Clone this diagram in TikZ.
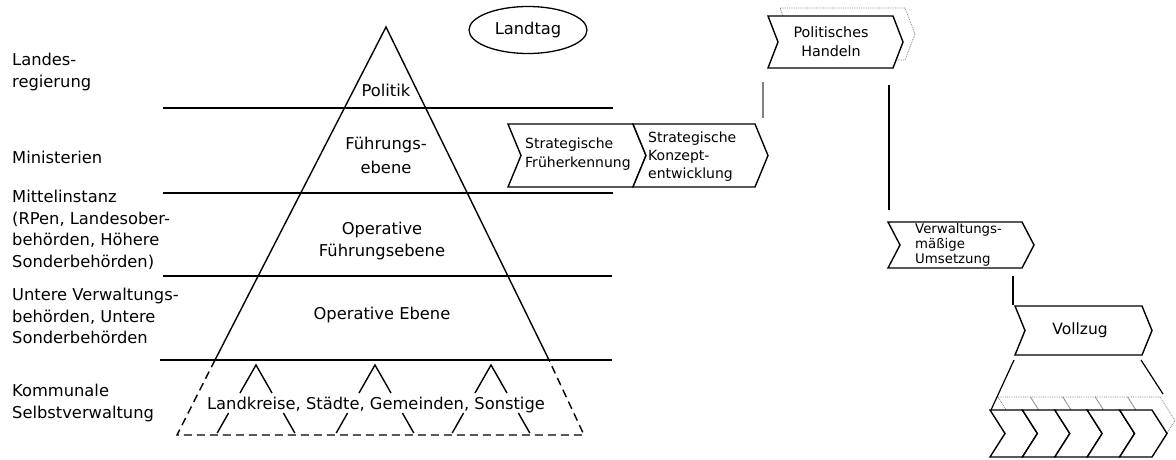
\documentclass[tikz,border=0pt]{standalone}
\usepackage{fontspec}
\setmainfont{DejaVu Sans}
\usetikzlibrary{shapes.geometric}
\tikzset{
  % chevron: width / height / depth of the notch and the point
  pics/chevron/.style n args={3}{code={
    \path[pic actions] (0,0) -- (#1,0) -- ({#1+#3},{#2/2}) -- (#1,#2)
      -- (0,#2) -- (#3,{#2/2}) -- cycle;
  }}
}
\begin{document}
\begin{tikzpicture}[x=1pt,y=-1pt,
  big/.style={font=\fontsize{16.3}{21.5}\selectfont, inner sep=0pt},
  small/.style={font=\fontsize{14}{18}\selectfont, inner sep=0pt},
  rule/.style={line width=1.3pt},
  heavyrule/.style={line width=2.8pt},
  edge/.style={line width=1.4pt, line join=miter},
  dashedge/.style={line width=1.4pt, dash pattern=on 8pt off 5pt},
  shadowline/.style={draw, gray, densely dotted, line width=0.8pt},
  box/.style={draw, fill=white, line width=1.4pt, line join=miter},
  link/.style={line width=1.2pt}
]
\useasboundingbox (0,0) rectangle (1176,459);
\fill[white] (0,0) rectangle (1176,459);

% --- level labels on the left
\node[big, anchor=west, align=left] (lreg) at (12,72) {Landes-\\regierung};
\node[big, anchor=west, align=left] (lmin) at (12,157) {Ministerien};
\node[big, anchor=west, align=left] (lmit) at (12,230)
  {Mittelinstanz\\(RPen, Landesober-\\behörden, Höhere\\Sonderbehörden)};
\node[big, anchor=west, align=left] (lunt) at (12,316)
  {Untere Verwaltungs-\\behörden, Untere\\Sonderbehörden};
\node[big, anchor=west, align=left] (lkom) at (12,403) {Kommunale\\Selbstverwaltung};

% --- horizontal level rules
\coordinate (r1a) at (163,108); \coordinate (r1b) at (613,108);
\coordinate (r2a) at (163,193); \coordinate (r2b) at (613,193);
\coordinate (r3a) at (163,276); \coordinate (r3b) at (612,276);
\coordinate (r4a) at (160,360); \coordinate (r4b) at (612,360);
\draw[heavyrule] (r1a) -- (r1b);
\draw[rule] (r2a) -- (r2b);
\draw[rule] (r3a) -- (r3b);
\draw[heavyrule] (r4a) -- (r4b);

% --- pyramid
\coordinate (apex) at (386,27);
\coordinate (bl) at (215,360);
\coordinate (br) at (549,360);
\coordinate (dl) at (177,435);
\coordinate (dr) at (584,435);
\draw[edge] (bl) -- (apex) -- (br);
\draw[dashedge] (bl) -- (dl) -- (dr) -- (br);

\node[big] (politik) at (386,90) {Politik};
\node[big, align=center, font=\fontsize{16.3}{24}\selectfont] (fuehr) at (386,155) {Führungs-\\ebene};
\node[big, align=center] (opfuehr) at (382,241) {Operative\\Führungsebene};
\node[big] (opeb) at (382,315) {Operative Ebene};
\node[big] (komm) at (376,405) {Landkreise, Städte, Gemeinden, Sonstige};

% small roofs of the municipalities, broken around the text
\foreach \p in {256,375,491} {
  \draw[edge] (\p-16,393) -- (\p,365) -- (\p+16,393);
  \draw[edge] (\p-27.4,413) -- (\p-38.8,433);
  \draw[edge] (\p+27.4,413) -- (\p+38.8,433);
}

% --- parliament
\node[draw, ellipse, line width=1.3pt, minimum width=118pt, minimum height=47pt,
      big, inner sep=0pt] (landtag) at (528,30) {Landtag};

% --- process chain
% political action, with its dotted shadow
\pic[shadowline] at (780,8) {chevron={125}{52}{10}};
\pic[box] at (768,16) {chevron={125}{52}{10}};
\node[small, align=center, font=\fontsize{14.3}{19}\selectfont] (handeln) at (831,42) {Politisches\\Handeln};

% strategic steps
\pic[box] at (508,124) {chevron={125}{63}{13}};
\pic[box] at (633,124) {chevron={122}{63}{13}};
\node[small, anchor=west, align=left, font=\fontsize{14}{19}\selectfont] (frueh) at (525,154)
  {Strategische\\Früherkennung};
\node[small, anchor=west, align=left] (konzept) at (648,157)
  {Strategische\\Konzept-\\entwicklung};

% connectors below political action
\coordinate (ph1) at (763,82);  \coordinate (ph2) at (763,118);
\coordinate (pr1) at (889,85);  \coordinate (pr2) at (889,210);
\draw[link, gray] (ph1) -- (ph2);
\draw[link] (pr1) -- (pr2);

% administrative implementation
\pic[box] at (888,222) {chevron={134}{46}{12}};
\node[small, anchor=west, align=left, font=\fontsize{13.3}{15.2}\selectfont] (umsetz) at (915,245)
  {Verwaltungs-\\mäßige\\Umsetzung};
\coordinate (vu1) at (1013,276); \coordinate (vu2) at (1013,305);
\draw[link] (vu1) -- (vu2);

% execution
\pic[box] at (1015,306) {chevron={127}{49}{10}};
\node[small, font=\fontsize{15.5}{18}\selectfont] (vollzug) at (1080,330) {Vollzug};

% funnel to the row of individual steps
\coordinate (f1) at (1014,360); \coordinate (f2) at (991,410);
\coordinate (f3) at (1141,360); \coordinate (f4) at (1163,394);
\draw[link] (f1) -- (f2);
\draw[link] (f3) -- (f4);

% row of steps, with a dotted shadow row behind
\foreach \i in {0,...,4} {
  \pic[shadowline] at (998+32.4*\i,397) {chevron={32.4}{47}{15}};
}
\foreach \i in {0,...,4} {
  \pic[box] at (990+32.4*\i,410) {chevron={32.4}{47}{15}};
}
\end{tikzpicture}
\end{document}
